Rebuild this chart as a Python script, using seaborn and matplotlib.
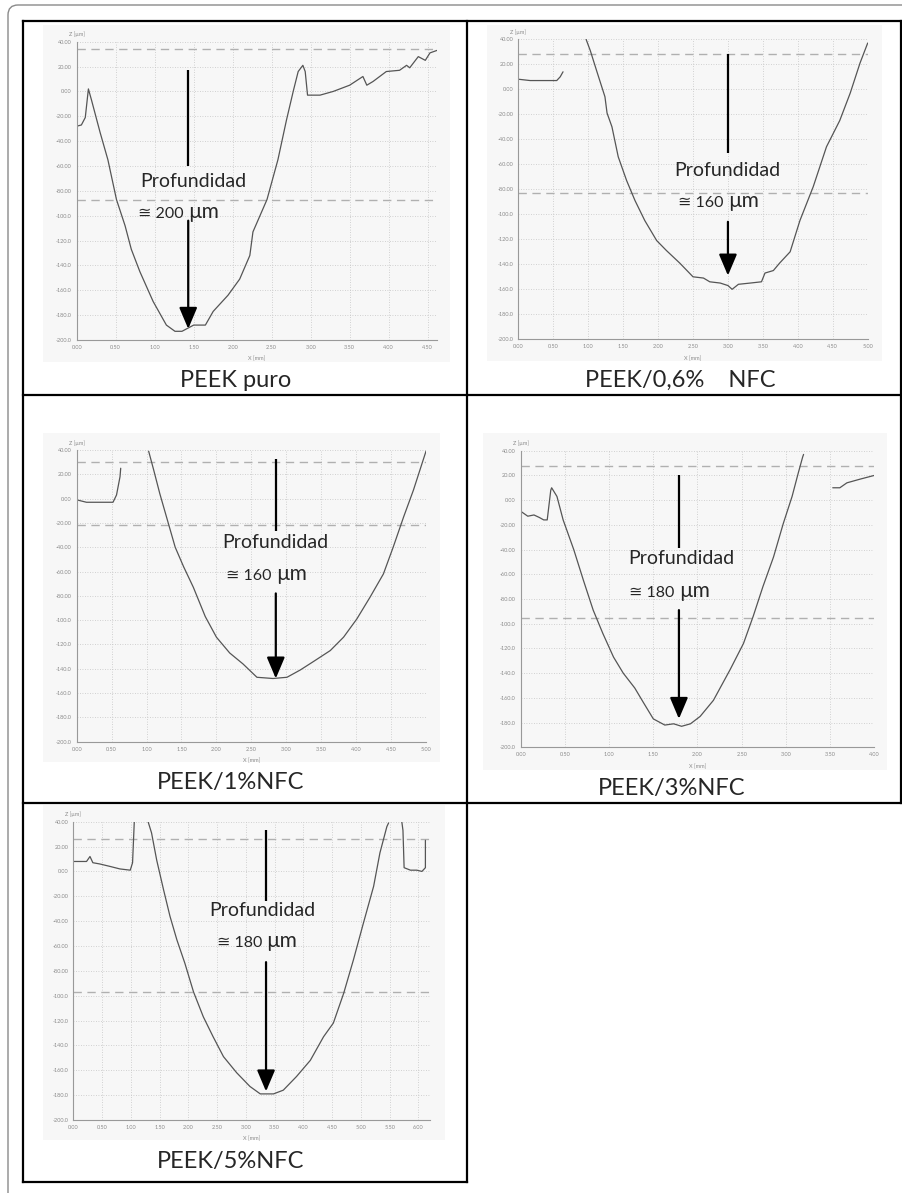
import numpy as np
import pandas as pd
import seaborn as sns
import matplotlib.pyplot as plt
from matplotlib.patches import Rectangle, FancyBboxPatch
from matplotlib.lines import Line2D
from matplotlib.transforms import IdentityTransform

sns.set_style("white")
plt.rcParams['font.family'] = ['Lato', 'DejaVu Sans']

W, H = 903, 1193

# ---- profile data, X [mm] / Z [um] ----
# PEEK puro
x1 = [0.00, 0.06, 0.11, 0.15, 0.19, 0.30, 0.40, 0.51, 0.62, 0.70, 0.81, 0.98, 1.15, 1.26, 1.35,
      1.41, 1.50, 1.65, 1.75, 1.94, 2.09, 2.22, 2.26, 2.44, 2.58, 2.69, 2.78, 2.84, 2.90, 2.93,
      2.96, 3.12, 3.29, 3.50, 3.67, 3.72, 3.80, 3.97, 4.14, 4.23, 4.27, 4.38, 4.47, 4.53, 4.62]
z1 = [-28, -27, -21, 2, -7, -33, -55, -87, -108, -127, -145, -169, -188, -193, -193,
      -191, -188, -188, -177, -164, -151, -132, -113, -87, -55, -23, 1, 16, 21, 16,
      -3, -3, 0, 5, 12, 5, 8, 16, 17, 21, 19, 28, 25, 31, 33]

# PEEK/0,6% NFC
x2a = [0.01, 0.17, 0.55, 0.60, 0.64]
z2a = [8, 7, 7, 10, 14]
x2b = [0.97, 1.03, 1.12, 1.24, 1.27, 1.34, 1.43, 1.55, 1.67, 1.81, 1.98, 2.12, 2.31, 2.50, 2.65,
       2.74, 2.89, 3.00, 3.06, 3.15, 3.32, 3.48, 3.53, 3.65, 3.74, 3.89, 4.03, 4.22, 4.41, 4.60,
       4.75, 4.89, 5.00]
z2b = [40, 31, 15, -6, -19, -30, -54, -73, -89, -105, -121, -129, -139, -150, -151,
       -154, -155, -157, -160, -156, -155, -154, -147, -145, -139, -130, -105, -78, -46, -25,
       -3, 21, 37]

# PEEK/1%NFC
x3a = [0.00, 0.14, 0.52, 0.57, 0.62, 0.63]
z3a = [-1, -3, -3, 3, 18, 25]
x3b = [1.03, 1.10, 1.19, 1.31, 1.41, 1.53, 1.67, 1.84, 2.00, 2.19, 2.38, 2.58, 2.81, 3.01, 3.20,
       3.39, 3.63, 3.82, 4.01, 4.20, 4.39, 4.53, 4.68, 4.82, 5.00]
z3b = [39, 24, 4, -20, -40, -56, -73, -97, -114, -127, -136, -147, -148, -147, -141,
       -134, -125, -114, -99, -81, -62, -40, -15, 7, 39]

# PEEK/3%NFC
x4a = [0.00, 0.08, 0.15, 0.21, 0.26, 0.30, 0.34, 0.35, 0.41, 0.48, 0.60, 0.71, 0.82, 0.93, 1.05,
       1.16, 1.29, 1.39, 1.50, 1.63, 1.73, 1.82, 1.92, 2.03, 2.18, 2.37, 2.52, 2.63, 2.74, 2.86,
       2.97, 3.07, 3.14, 3.19, 3.20]
z4a = [-9, -13, -12, -14, -16, -16, 8, 10, 3, -16, -40, -65, -89, -108, -127,
       -140, -152, -164, -177, -182, -181, -183, -181, -175, -162, -137, -116, -94, -70, -46,
       -19, 3, 22, 35, 37]
x4b = [3.53, 3.61, 3.69, 3.84, 4.00]
z4b = [10, 10, 14, 17, 20]

# PEEK/5%NFC
x5a = [0.00, 0.23, 0.29, 0.34, 0.46, 0.64, 0.81, 0.99, 1.03, 1.06]
z5a = [8, 8, 12, 7, 6, 4, 2, 1, 7, 40]
x5b = [1.30, 1.36, 1.45, 1.57, 1.68, 1.80, 1.94, 2.09, 2.26, 2.43, 2.61, 2.84, 3.07, 3.25, 3.48,
       3.65, 3.88, 4.12, 4.35, 4.52, 4.70, 4.87, 5.04, 5.22, 5.33, 5.45, 5.48]
z5b = [40, 31, 9, -15, -36, -55, -74, -97, -117, -133, -149, -162, -173, -179, -179,
       -176, -165, -152, -133, -122, -98, -71, -42, -12, 15, 36, 39]
x5c = [5.71, 5.73, 5.75, 5.86, 5.97, 6.06, 6.12, 6.12]
z5c = [40, 33, 3, 1, 1, 0, 3, 25]

captions = ["PEEK puro", "PEEK/0,6%    NFC", "PEEK/1%NFC", "PEEK/3%NFC", "PEEK/5%NFC"]
depths = ["200", "160", "160", "180", "180"]
ref_levels = [[34, -87], [28, -83], [30, -22], [28, -95], [26, -97]]
x_max_tick = [4.5, 5.0, 5.0, 4.0, 6.0]
y_ticks = list(range(40, -201, -20))

profiles = [
    [(x1, z1)],
    [(x2a, z2a), (x2b, z2b)],
    [(x3a, z3a), (x3b, z3b)],
    [(x4a, z4a), (x4b, z4b)],
    [(x5a, z5a), (x5b, z5b), (x5c, z5c)],
]

# ---- layout (pixels) ----
# grey scan background, axes box (left, top, right, bottom), xlim right
bg_px = [(43, 25, 450, 362), (487, 25, 882, 361), (43, 433, 440, 762),
         (483, 433, 887, 770), (43, 805, 445, 1140)]
ax_px = [(76.7, 41.7, 437, 340), (518.3, 39.3, 867.7, 339.3), (76.7, 450, 426, 741.7),
         (520.7, 450.7, 874.3, 747.3), (73.3, 821.7, 430, 1120)]
xlim_right = [4.62, 5.0, 5.0, 4.0, 6.2]
# annotation: arrow x, line top, line bottom, Profundidad (x, z), value z, arrow start, tip
annot = [
    dict(ax_x=1.43, top=17, bot=-60, px=1.50, pz=-77, vz=-102, a0=-104, tip=-191),
    dict(ax_x=3.00, top=28, bot=-51, px=2.99, pz=-69, vz=-94, a0=-106, tip=-149),
    dict(ax_x=2.85, top=33, bot=-27, px=2.84, pz=-41, vz=-67, a0=-78, tip=-148),
    dict(ax_x=1.79, top=20, bot=-39, px=1.82, pz=-52, vz=-78, a0=-89, tip=-177),
    dict(ax_x=3.35, top=33, bot=-24, px=3.28, pz=-36, vz=-61, a0=-73, tip=-177),
]
caption_px = [(236, 387), (680, 387), (231, 789), (672, 795), (231, 1168)]


def frac_rect(x0, y0, x1, y1):
    return [x0 / W, 1 - y1 / H, (x1 - x0) / W, (y1 - y0) / H]


def ylab(v):
    return f"{v:.2f}" if abs(v) < 100 else f"{v:.1f}"


fig = plt.figure(figsize=(W / 100, H / 100), dpi=100)

# outer rounded frame
fig.add_artist(FancyBboxPatch((8, -30), 940, H - 5 + 30, boxstyle="round,pad=0,rounding_size=10",
                              transform=IdentityTransform(), fill=False, ec="#8a8a8a", lw=1.0))

# table lines
table_lines = [((23, 21), (903, 21)), ((23, 395), (901, 395)), ((23, 803), (901, 803)),
               ((23, 1182), (467, 1182)), ((23, 21), (23, 1182)), ((467, 21), (467, 1182)),
               ((901, 21), (901, 803))]
for (xa, ya), (xb, yb) in table_lines:
    fig.add_artist(Line2D([xa / W, xb / W], [1 - ya / H, 1 - yb / H], color="black", lw=1.6,
                          solid_capstyle="projecting"))

for i in range(5):
    fig.add_artist(Rectangle((bg_px[i][0] / W, 1 - bg_px[i][3] / H),
                             (bg_px[i][2] - bg_px[i][0]) / W, (bg_px[i][3] - bg_px[i][1]) / H,
                             transform=fig.transFigure, fc="#f7f7f7", ec="none", zorder=0))

    ax = fig.add_axes(frac_rect(*ax_px[i]))
    ax.set_facecolor("none")

    frames = []
    for k, (xs, zs) in enumerate(profiles[i]):
        frames.append(pd.DataFrame({"x": xs, "z": zs, "seg": k}))
    df = pd.concat(frames, ignore_index=True)

    sns.lineplot(data=df, x="x", y="z", units="seg", estimator=None, sort=False,
                 color="#555555", lw=0.9, ax=ax, legend=False)

    for lv in ref_levels[i]:
        ax.axhline(lv, color="#b0b0b0", lw=1.0, ls=(0, (6, 4)), zorder=1)

    ax.set_xlim(0, xlim_right[i])
    ax.set_ylim(-200, 40)
    xt = np.arange(0, x_max_tick[i] + 0.01, 0.5)
    ax.set_xticks(xt)
    ax.set_xticklabels([f"{v:.2f}" for v in xt])
    ax.set_yticks(y_ticks)
    ax.set_yticklabels([ylab(v) for v in y_ticks])
    ax.grid(True, color="#c4c4c4", ls=(0, (1, 2)), lw=0.6)
    for s in ["top", "right"]:
        ax.spines[s].set_visible(False)
    for s in ["left", "bottom"]:
        ax.spines[s].set_color("#999999")
        ax.spines[s].set_linewidth(0.8)
    ax.tick_params(labelsize=4, colors="#8a8a8a", length=2, width=0.6, pad=1.5)
    ax.set_xlabel("")
    ax.set_ylabel("")
    ax.text(0, 1.015, "Z [µm]", transform=ax.transAxes, ha="center", va="bottom",
            fontsize=4, color="#8a8a8a")
    ax.text(0.5, -0.055, "X [mm]", transform=ax.transAxes, ha="center", va="top",
            fontsize=4, color="#8a8a8a")

    a = annot[i]
    ax.vlines(a["ax_x"], a["bot"], a["top"], color="black", lw=1.6, zorder=5)
    ax.annotate("", xy=(a["ax_x"], a["tip"]), xytext=(a["ax_x"], a["a0"]),
                arrowprops=dict(arrowstyle="-|>,head_length=1.3,head_width=0.55", color="black",
                                lw=1.6, shrinkA=0, shrinkB=0, mutation_scale=10), zorder=5)
    ax.text(a["px"], a["pz"], "Profundidad", ha="center", va="baseline", fontsize=14, zorder=6)
    ax.text(a["ax_x"], a["vz"], "≅ " + depths[i] + " ", ha="right", va="baseline",
            fontsize=11.5, zorder=6)
    ax.text(a["ax_x"], a["vz"], "µm", ha="left", va="baseline", fontsize=15, zorder=6)

    fig.text(caption_px[i][0] / W, 1 - caption_px[i][1] / H, captions[i], ha="center",
             va="baseline", fontsize=17)

fig.savefig("out.png", dpi=100, facecolor="white")
